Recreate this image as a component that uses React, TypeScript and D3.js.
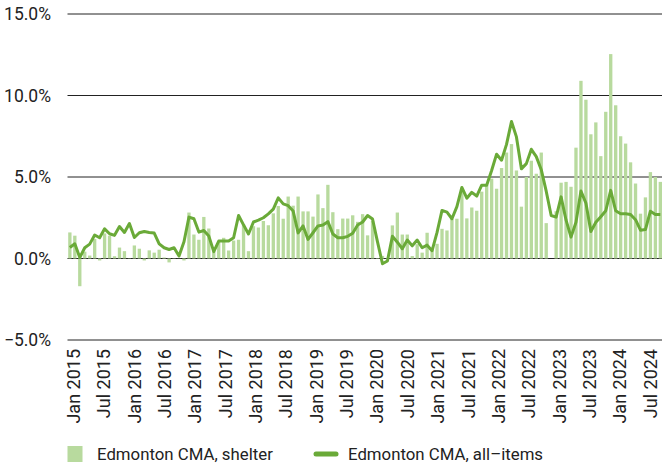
import React, { useRef, useEffect } from 'react';
import * as d3 from 'd3';

// monthly, Jan 2015 onwards
const shelter = [
  1.6, 1.4, -1.7, 0.42, 0.18, 1.2, -0.12, 1.54, 1.4, 0.14, 0.67, 0.45,
  0.02, 0.8, 0.6, -0.12, 0.5, 0.36, 0.54, 0.06, -0.24, 0.02, 0.01, -0.12,
  2.82, 1.47, 1.15, 2.55, 1.84, 0.45, 1.0, 1.27, 0.49, 1.1, 1.15, 2.1,
  0.45, 1.98, 1.9, 2.3, 2.04, 2.77, 3.22, 2.44, 3.8, 3.24, 3.8, 2.89,
  2.89, 2.57, 3.93, 3.09, 4.52, 2.84, 1.8, 2.45, 2.45, 2.65, 2.25, 2.72,
  1.42, 2.3, 0.03, 0.16, 0.03, 2.03, 2.82, 1.47, 1.47, 0.15, 0.88, 0.36,
  1.58, 0.6, 0.9, 1.82, 1.72, 2.44, 2.44, 4.2, 2.46, 3.13, 2.93, 4.1,
  4.5, 4.9, 4.28, 5.55, 6.5, 7.02, 5.4, 3.18, 5.0, 6.0, 5.2, 6.5,
  2.17, 0.0, 2.9, 4.65, 4.7, 4.4, 6.8, 10.9, 9.74, 7.62, 8.35, 6.28,
  9.0, 12.54, 9.4, 7.5, 7.05, 5.9, 4.6, 2.75, 3.75, 5.3, 5.0, 4.7,
];

const allItems = [
  0.68, 0.9, 0.06, 0.66, 0.88, 1.44, 1.27, 1.82, 1.52, 1.42, 1.96, 1.6,
  2.15, 1.29, 1.58, 1.66, 1.6, 1.56, 0.9, 0.66, 0.55, 0.66, 0.15, 1.03,
  2.54, 2.44, 1.62, 1.72, 1.38, 0.42, 1.07, 1.07, 1.07, 1.27, 2.64, 2.06,
  1.5, 2.24, 2.35, 2.5, 2.74, 3.03, 3.72, 3.35, 3.24, 2.91, 1.57, 2.0,
  1.17, 1.58, 2.0, 2.05, 2.26, 1.5, 1.27, 1.27, 1.36, 1.55, 2.05, 2.24,
  2.64, 2.42, 1.02, -0.32, -0.15, 1.36, 1.0, 0.6, 1.13, 0.78, 1.13, 0.66,
  0.82, 0.48, 1.6, 2.95, 2.84, 2.44, 3.18, 4.36, 3.7, 4.06, 3.83, 4.5,
  4.5, 5.4, 6.4, 6.03, 7.0, 8.4, 7.46, 5.5, 5.82, 6.7, 6.25, 5.45,
  4.13, 2.64, 2.54, 3.78, 2.35, 1.31, 2.22, 4.14, 3.4, 1.65, 2.22, 2.56,
  2.93, 4.18, 2.93, 2.75, 2.75, 2.7, 2.38, 1.74, 1.78, 2.9, 2.7, 2.7,
];

const tickLabels = [
  'Jan 2015', 'Jul 2015', 'Jan 2016', 'Jul 2016', 'Jan 2017', 'Jul 2017', 'Jan 2018', 'Jul 2018',
  'Jan 2019', 'Jul 2019', 'Jan 2020', 'Jul 2020', 'Jan 2021', 'Jul 2021', 'Jan 2022', 'Jul 2022',
  'Jan 2023', 'Jul 2023', 'Jan 2024', 'Jul 2024',
];

const yTicks = [15, 10, 5, 0, -5];

const seriesNames = ['Edmonton CMA, shelter', 'Edmonton CMA, all\u2013items'];

const BAR = '#b8da9e';
const LINE = '#6aaa38';
const FONT = 'Roboto, sans-serif';
const INK = '#222';

const App = () => {
  const ref = useRef<SVGSVGElement>(null);

  useEffect(() => {
    if (!ref.current) return;
    const svg = d3.select(ref.current);
    svg.selectAll('*').remove();

    const left = 67.5, right = 662;

    const x = d3.scaleBand<number>()
      .domain(d3.range(shelter.length))
      .range([68.2, 662])
      .paddingInner(0.33)
      .paddingOuter(0);

    const y = d3.scaleLinear().domain([-5, 15]).range([340, 14]);

    const xl = d3.scalePoint<string>().domain(tickLabels).range([73.5, 650.5]);

    // gridlines
    svg.append('g')
      .selectAll('line')
      .data(yTicks)
      .enter().append('line')
      .attr('x1', left)
      .attr('x2', right)
      .attr('y1', d => y(d))
      .attr('y2', d => y(d))
      .style('stroke', INK)
      .style('stroke-width', 1);

    // y labels
    svg.append('g')
      .selectAll('text')
      .data(yTicks)
      .enter().append('text')
      .attr('x', 51)
      .attr('y', d => y(d))
      .attr('dy', '0.35em')
      .style('text-anchor', 'end')
      .style('font-family', FONT)
      .style('font-size', '17.5px')
      .style('fill', INK)
      .text(d => d3.format('.1f')(d) + '%');

    // bars
    svg.append('g')
      .selectAll('rect')
      .data(shelter)
      .enter().append('rect')
      .attr('x', (d, i) => x(i)!)
      .attr('width', x.bandwidth())
      .attr('y', d => y(Math.max(0, d)))
      .attr('height', d => Math.abs(y(d) - y(0)))
      .style('fill', BAR);

    // line
    const line = d3.line<number>()
      .x((d, i) => x(i)! + x.bandwidth() / 2)
      .y(d => y(d));

    svg.append('path')
      .datum(allItems)
      .attr('d', line)
      .style('fill', 'none')
      .style('stroke', LINE)
      .style('stroke-width', 3)
      .style('stroke-linejoin', 'round');

    // x labels
    svg.append('g')
      .selectAll('text')
      .data(tickLabels)
      .enter().append('text')
      .attr('transform', d => `translate(${xl(d)},349) rotate(-90)`)
      .attr('dy', '0.35em')
      .style('text-anchor', 'end')
      .style('font-family', FONT)
      .style('font-size', '18px')
      .style('fill', INK)
      .text(d => d);

    // legend
    const lg = svg.append('g');
    lg.append('rect')
      .attr('x', 67.5).attr('y', 446)
      .attr('width', 15).attr('height', 16)
      .style('fill', BAR);
    lg.append('text')
      .attr('x', 97).attr('y', 460)
      .style('font-family', FONT).style('font-size', '16.8px').style('fill', INK)
      .text(seriesNames[0]);
    lg.append('line')
      .attr('x1', 316).attr('x2', 336)
      .attr('y1', 454).attr('y2', 454)
      .style('stroke', LINE).style('stroke-width', 5)
      .style('stroke-linecap', 'round');
    lg.append('text')
      .attr('x', 348).attr('y', 460)
      .style('font-family', FONT).style('font-size', '16.8px').style('fill', INK)
      .text(seriesNames[1]);
  }, []);

  return (
    <svg
      ref={ref}
      width={662}
      height={467}
      style={{ position: 'absolute', left: 0, top: 0, background: '#fff' }}
    />
  );
};

export default App;
